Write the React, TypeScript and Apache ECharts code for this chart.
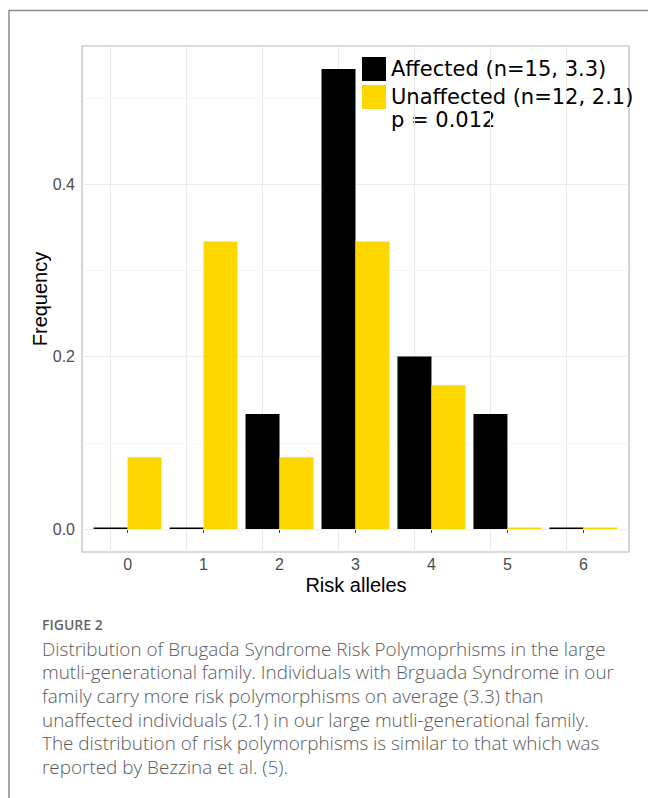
import React, { useEffect, useRef } from "react";
import * as echarts from "echarts";

const riskAlleles = [0, 1, 2, 3, 4, 5, 6];
const affected = [0, 0, 0.1333, 0.5333, 0.2, 0.1333, 0];
const unaffected = [0.0833, 0.3333, 0.0833, 0.3333, 0.1667, 0, 0];
const yTicks = [0, 0.2, 0.4];
const yMinor = [0.1, 0.3, 0.5];
const legendNames = ["Affected (n=15, 3.3)", "Unaffected (n=12, 2.1)"];
const pText = "p = 0.012";
const figureLabel = "FIGURE 2";
const captionLines = [
  "Distribution of Brugada Syndrome Risk Polymoprhisms in the large",
  "mutli-generational family. Individuals with Brguada Syndrome in our",
  "family carry more risk polymorphisms on average (3.3) than",
  "unaffected individuals (2.1) in our large mutli-generational family.",
  "The distribution of risk polymorphisms is similar to that which was",
  "reported by Bezzina et al. ({ref|5}).",
];

export default function App() {
  const ref = useRef<HTMLDivElement>(null);
  useEffect(() => {
    if (!ref.current) return;
    const chart = echarts.init(ref.current, null, { renderer: "svg" });
    const gridLines: any[] = [];
    yTicks.forEach((v) =>
      gridLines.push({ yAxis: v, lineStyle: { color: "#ebebeb", width: 1.1, type: "solid" } })
    );
    yMinor.forEach((v) =>
      gridLines.push({ yAxis: v, lineStyle: { color: "#f5f5f5", width: 0.8, type: "solid" } })
    );
    riskAlleles.forEach((v) =>
      gridLines.push({ xAxis: v, lineStyle: { color: "#ebebeb", width: 1.1, type: "solid" } })
    );
    const captionGraphics: any[] = captionLines.map((t, i) => ({
      type: "text",
      left: 42,
      top: 639 + i * 23.7,
      style: {
        text: t,
        font: "300 18.9px 'Open Sans'",
        fill: "#5a5a5a",
        rich: { ref: { fill: "#5b5bd8", font: "300 18.9px 'Open Sans'" } },
      },
    }));
    chart.setOption({
      animation: false,
      grid: {
        left: 82,
        top: 46,
        width: 547,
        height: 506,
        show: true,
        borderColor: "#b8b8b8",
        borderWidth: 1.2,
        backgroundColor: "#ffffff",
        containLabel: false,
      },
      legend: {
        data: legendNames,
        orient: "vertical",
        left: 362,
        top: 57,
        padding: 0,
        itemWidth: 24,
        itemHeight: 24,
        itemGap: 4,
        icon: "rect",
        selectedMode: false,
        textStyle: { fontFamily: "DejaVu Sans", fontSize: 21, color: "#000" },
      },
      xAxis: {
        type: "value",
        min: -0.6,
        max: 6.6,
        axisLine: { show: false },
        axisTick: {
          show: true,
          length: 4,
          customValues: riskAlleles,
          lineStyle: { color: "#444", width: 1 },
        },
        axisLabel: {
          customValues: riskAlleles,
          margin: 4,
          fontFamily: "Liberation Sans",
          fontSize: 16,
          color: "#4d4d4d",
        },
        splitLine: { show: false },
      },
      yAxis: {
        type: "value",
        min: -0.4 / 15,
        max: 0.56,
        axisLine: { show: false },
        axisTick: {
          show: true,
          length: 4,
          customValues: yTicks,
          lineStyle: { color: "#444", width: 1 },
        },
        axisLabel: {
          customValues: yTicks,
          margin: 7,
          fontFamily: "Liberation Sans",
          fontSize: 16,
          color: "#4d4d4d",
          formatter: (v: number) => v.toFixed(1),
        },
        splitLine: { show: false },
      },
      series: [
        {
          name: legendNames[0],
          type: "bar",
          data: riskAlleles.map((x, i) => [x, affected[i]]),
          barWidth: 34,
          barGap: "0%",
          barMinHeight: 1.5,
          itemStyle: { color: "#000000" },
          markLine: {
            silent: true,
            symbol: "none",
            z: 1,
            label: { show: false },
            emphasis: { disabled: true },
            data: gridLines,
          },
        },
        {
          name: legendNames[1],
          type: "bar",
          data: riskAlleles.map((x, i) => [x, unaffected[i]]),
          barWidth: 34,
          barGap: "0%",
          barMinHeight: 1.5,
          itemStyle: { color: "#ffd700" },
        },
      ],
      graphic: [
        {
          type: "polyline",
          shape: { points: [[9, 798], [9, 10.5], [648, 10.5]] },
          style: { stroke: "#8a8a8a", lineWidth: 1.5, fill: "none" },
          silent: true,
        },
        {
          type: "text",
          left: 391,
          top: 109,
          style: { text: pText, font: "21px 'DejaVu Sans'", fill: "#000" },
        },
        {
          type: "text",
          x: 356,
          y: 585,
          style: {
            text: "Risk alleles",
            font: "20px 'Liberation Sans'",
            fill: "#000",
            align: "center",
            verticalAlign: "middle",
          },
        },
        {
          type: "text",
          x: 40,
          y: 299,
          rotation: Math.PI / 2,
          style: {
            text: "Frequency",
            font: "20px 'Liberation Sans'",
            fill: "#000",
            align: "center",
            verticalAlign: "middle",
          },
        },
        {
          type: "text",
          left: 42,
          top: 617,
          style: { text: figureLabel, font: "600 14px 'Open Sans'", fill: "#666" },
        },
        ...captionGraphics,
      ],
    });
    return () => chart.dispose();
  }, []);
  return (
    <div
      ref={ref}
      style={{ position: "absolute", left: 0, top: 0, width: 648, height: 798 }}
    />
  );
}
